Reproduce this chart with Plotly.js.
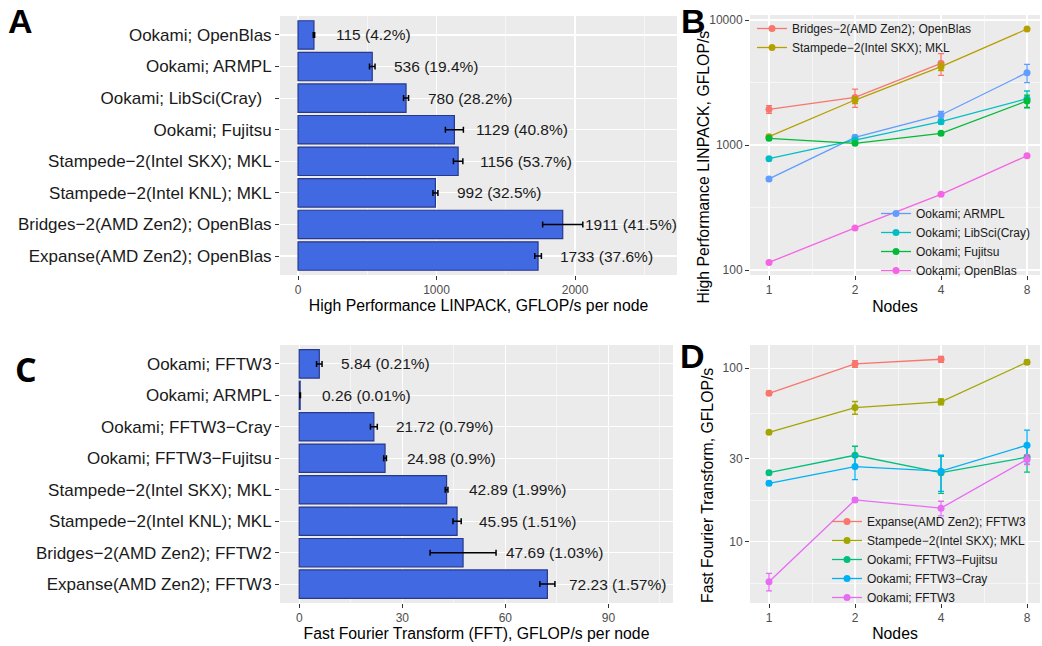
<!DOCTYPE html>
<html><head><meta charset="utf-8">
<script src="https://cdn.plot.ly/plotly-3.0.1.min.js"></script>
<style>html,body{margin:0;padding:0;background:#fff}#chart{width:1042px;height:646px}</style>
</head><body><div id="chart"></div>
<script>
// ---------- Panel A: HPL per node ----------
const catsA = ["Ookami; OpenBlas","Ookami; ARMPL","Ookami; LibSci(Cray)\u00a0\u00a0","Ookami; Fujitsu","Stampede\u22122(Intel SKX); MKL","Stampede\u22122(Intel KNL); MKL","Bridges\u22122(AMD Zen2); OpenBlas","Expanse(AMD Zen2); OpenBlas"];
const valsA = [115, 536, 780, 1129, 1156, 992, 1911, 1733];
const pctA  = ["4.2%","19.4%","28.2%","40.8%","53.7%","32.5%","41.5%","37.6%"];
const errA  = [5, 20, 18, 65, 34, 18, 145, 24];

// ---------- Panel C: FFT per node ----------
const catsC = ["Ookami; FFTW3","Ookami; ARMPL","Ookami; FFTW3\u2212Cray","Ookami; FFTW3\u2212Fujitsu","Stampede\u22122(Intel SKX); MKL","Stampede\u22122(Intel KNL); MKL","Bridges\u22122(AMD Zen2); FFTW2","Expanse(AMD Zen2); FFTW3"];
const valsC = [5.84, 0.26, 21.72, 24.98, 42.89, 45.95, 47.69, 72.23];
const pctC  = ["0.21%","0.01%","0.79%","0.9%","1.99%","1.51%","1.03%","1.57%"];
const errC  = [0.8, 0.1, 1.0, 0.4, 0.4, 1.2, 9.6, 2.2];

// ---------- Panel B: HPL scaling ----------
const nodes = [1, 2, 4, 8];
const namesB = ["Bridges\u22122(AMD Zen2); OpenBlas","Stampede\u22122(Intel SKX); MKL","Ookami; ARMPL","Ookami; LibSci(Cray)","Ookami; Fujitsu","Ookami; OpenBlas"];
const colorsB = ["#F8766D","#B79F00","#619CFF","#00BFC4","#00BA38","#F564E3"];
const bridgesB  = [1930, 2400, 4500, null];
const stampedeB = [1166, 2290, 4235, 8470];
const armplB    = [535, 1152, 1738, 3790];
const libsciB   = [778, 1096, 1535, 2345];
const fujitsuB  = [1130, 1031, 1240, 2250];
const openblasB = [115, 217, 403, 820];
const errBridgesB  = [135, 400, 890, null];
const errStampedeB = [40, 150, 300, 100];
const errArmplB    = [15, 40, 120, 630];
const errLibsciB   = [20, 30, 60, 360];
const errFujitsuB  = [30, 25, 40, 255];
const errOpenblasB = [2, 4, 6, 12];

// ---------- Panel D: FFT scaling ----------
const namesD = ["Expanse(AMD Zen2); FFTW3","Stampede\u22122(Intel SKX); MKL","Ookami; FFTW3\u2212Fujitsu","Ookami; FFTW3\u2212Cray","Ookami; FFTW3"];
const colorsD = ["#F8766D","#A3A500","#00BF7D","#00B0F6","#E76BF3"];
const expanseD  = [71.7, 105.9, 112.7, null];
const stampedeD = [42.7, 59.3, 64.0, 108.3];
const fujitsuD  = [25.0, 31.5, 25.0, 30.7];
const crayD     = [21.7, 27.1, 25.5, 36.0];
const fftw3D    = [5.88, 17.4, 15.6, 29.8];
const errExpanseD  = [2, 4.6, 4.5, null];
const errStampedeD = [1, 5, 2.5, 3];
const errFujitsuD  = [0.5, 4, 6, 5.5];
const errCrayD     = [0.6, 4.3, 6, 8];
const errFftw3D    = [0.68, 0.5, 1.5, 2];

const FONT = '"Liberation Sans", Arial, Helvetica, sans-serif';
const GRID = '#FFFFFF';
const TICKC = '#4D4D4D';

const traces = [];
traces.push({type:'bar', orientation:'h', x: valsA, y: catsA, xaxis:'x', yaxis:'y', width:0.9,
  marker:{color:'#4169E1', line:{color:'#28398C', width:1.2}},
  error_x:{type:'data', array: errA, color:'#000', thickness:1.5, width:3},
  showlegend:false, hoverinfo:'skip'});
traces.push({type:'bar', orientation:'h', x: valsC, y: catsC, xaxis:'x3', yaxis:'y3', width:0.9,
  marker:{color:'#4169E1', line:{color:'#28398C', width:1.2}},
  error_x:{type:'data', array: errC, color:'#000', thickness:1.5, width:3},
  showlegend:false, hoverinfo:'skip'});

const seriesB = [bridgesB, stampedeB, armplB, libsciB, fujitsuB, openblasB];
const errsB = [errBridgesB, errStampedeB, errArmplB, errLibsciB, errFujitsuB, errOpenblasB];
seriesB.forEach((s, i) => {
  traces.push({type:'scatter', mode:'lines+markers', x: nodes, y: s, name: namesB[i],
    xaxis:'x2', yaxis:'y2', legend: i < 2 ? 'legend' : 'legend2',
    line:{color: colorsB[i], width:1.3}, marker:{color: colorsB[i], size:7},
    error_y:{type:'data', array: errsB[i], color: colorsB[i], thickness:1.3, width:3},
    hoverinfo:'skip'});
});
const seriesD = [expanseD, stampedeD, fujitsuD, crayD, fftw3D];
const errsD = [errExpanseD, errStampedeD, errFujitsuD, errCrayD, errFftw3D];
seriesD.forEach((s, i) => {
  traces.push({type:'scatter', mode:'lines+markers', x: nodes, y: s, name: namesD[i],
    xaxis:'x4', yaxis:'y4', legend:'legend3',
    line:{color: colorsD[i], width:1.3}, marker:{color: colorsD[i], size:7},
    error_y:{type:'data', array: errsD[i], color: colorsD[i], thickness:1.3, width:3},
    hoverinfo:'skip'});
});

// geometric midpoints for minor grid on log axes
const geoMid = arr => arr.slice(1).map((v, i) => Math.sqrt(v * arr[i]));

const baseAxis = {
  showgrid:true, gridcolor:GRID, gridwidth:1.1, zeroline:false, showline:false,
  ticks:'outside', ticklen:4, tickwidth:1, tickcolor:'#333333',
  tickfont:{family:FONT, size:12, color:TICKC}
};
const titleFont = {family:FONT, size:15.8, color:'#000'};

const annotations = [];
valsA.forEach((v, i) => annotations.push({xref:'x', yref:'y', x: v, y: catsA[i], text: v + ' (' + pctA[i] + ')',
  showarrow:false, xanchor:'left', xshift:20, font:{family:FONT, size:15.5, color:'#1A1A1A'}}));
// labels in C sit after the error bar when the bar is wide
valsC.forEach((v, i) => {
  const wide = errC[i] > 5;
  annotations.push({xref:'x3', yref:'y3', x: wide ? v + errC[i] : v, y: catsC[i], text: v + ' (' + pctC[i] + ')',
    showarrow:false, xanchor:'left', xshift: wide ? 8 : 20, font:{family:FONT, size:15.5, color:'#1A1A1A'}});
});
const letters = [
  {t:'A', x:20, y:21, f:FONT}, {t:'B', x:693.5, y:21, f:FONT},
  {t:'C', x:26, y:369, f:'"Open Sans", "Noto Sans", sans-serif'}, {t:'D', x:692.5, y:355.5, f:FONT}
];
letters.forEach(L => annotations.push({xref:'paper', yref:'paper', x: L.x/1042, y: 1 - L.y/646,
  text:'<b>' + L.t + '</b>', showarrow:false, xanchor:'center', yanchor:'middle',
  font:{family:L.f, size:34, color:'#000'}}));
// rotated y-axis titles of B and D
annotations.push({xref:'paper', yref:'paper', x: 702.5/1042, y: 1 - 167/646, textangle:-90,
  text:'High Performance LINPACK, GFLOP/s', showarrow:false, xanchor:'center', yanchor:'middle', font:{family:FONT, size:15.8, color:'#000'}});
annotations.push({xref:'paper', yref:'paper', x: 707/1042, y: 1 - 486/646, textangle:-90,
  text:'Fast Fourier Transform, GFLOP/s', showarrow:false, xanchor:'center', yanchor:'middle', font:{family:FONT, size:15.8, color:'#000'}});

const legendBase = {bgcolor:'rgba(0,0,0,0)', borderwidth:0, font:{family:FONT, size:12, color:'#1A1A1A'},
  tracegroupgap:0, xanchor:'left'};

const layout = {
  width:1042, height:646, margin:{l:0, r:0, t:0, b:0},
  paper_bgcolor:'#FFFFFF', plot_bgcolor:'#EBEBEB',
  font:{family:FONT},
  showlegend:true,
  barmode:'overlay',
  xaxis: Object.assign({}, baseAxis, {domain:[280/1042, 677/1042], anchor:'y', range:[-130, 2736],
    tickmode:'linear', tick0:0, dtick:1000,
    minor:{dtick:500, tick0:0, showgrid:true, gridcolor:GRID, gridwidth:0.55, ticks:''},
    title:{text:'High Performance LINPACK, GFLOP/s per node', font:titleFont, standoff:3}}),
  yaxis: Object.assign({}, baseAxis, {domain:[1-275/646, 1-16/646], anchor:'x', type:'category',
    range:[7.6, -0.6], tickfont:{family:FONT, size:17, color:'#1A1A1A'}}),
  xaxis2: Object.assign({}, baseAxis, {domain:[750/1042, 1040/1042], anchor:'y2', type:'log',
    range:[-0.0665, 0.9485], tickmode:'array', tickvals:nodes, ticktext:nodes.map(String),
    minor:{tickmode:'array', tickvals:geoMid(nodes), showgrid:true, gridcolor:GRID, gridwidth:0.55, ticks:''},
    title:{text:'Nodes', font:titleFont, standoff:4}}),
  yaxis2: Object.assign({}, baseAxis, {domain:[1-275/646, 1-15/646], anchor:'x2', type:'log',
    range:[1.96, 4.04], tickmode:'array', tickvals:[100, 1000, 10000], ticktext:['100','1000','10000'],
    minor:{tickmode:'array', tickvals:geoMid([100, 1000, 10000]), showgrid:true, gridcolor:GRID, gridwidth:0.55, ticks:''}}),
  xaxis3: Object.assign({}, baseAxis, {domain:[280/1042, 673/1042], anchor:'y3', range:[-5.6, 108.8],
    tickmode:'linear', tick0:0, dtick:30,
    minor:{dtick:15, tick0:0, showgrid:true, gridcolor:GRID, gridwidth:0.55, ticks:''},
    title:{text:'Fast Fourier Transform (FFT), GFLOP/s per node', font:titleFont, standoff:1}}),
  yaxis3: Object.assign({}, baseAxis, {domain:[1-603/646, 1-345/646], anchor:'x3', type:'category',
    range:[7.6, -0.6], tickfont:{family:FONT, size:17, color:'#1A1A1A'}}),
  xaxis4: Object.assign({}, baseAxis, {domain:[750/1042, 1040/1042], anchor:'y4', type:'log',
    range:[-0.0665, 0.9485], tickmode:'array', tickvals:nodes, ticktext:nodes.map(String),
    minor:{tickmode:'array', tickvals:geoMid(nodes), showgrid:true, gridcolor:GRID, gridwidth:0.55, ticks:''},
    title:{text:'Nodes', font:titleFont, standoff:3}}),
  yaxis4: Object.assign({}, baseAxis, {domain:[1-603/646, 1-345/646], anchor:'x4', type:'log',
    range:[0.6465, 2.134], tickmode:'array', tickvals:[10, 30, 100], ticktext:['10','30','100'],
    minor:{tickmode:'array', tickvals:[Math.pow(10,0.7615), Math.sqrt(300), Math.sqrt(3000)], showgrid:true, gridcolor:GRID, gridwidth:0.55, ticks:''}}),
  legend: Object.assign({}, legendBase, {x:(793-41)/1042, y:1-14/646, yanchor:'top'}),
  legend2: Object.assign({}, legendBase, {x:(917-41)/1042, y:1-242/646, yanchor:'middle'}),
  legend3: Object.assign({}, legendBase, {x:(868-41)/1042, y:1-559.5/646, yanchor:'middle'}),
  annotations: annotations
};

Plotly.newPlot('chart', traces, layout, {displayModeBar:false, staticPlot:true});
</script>
</body></html>
